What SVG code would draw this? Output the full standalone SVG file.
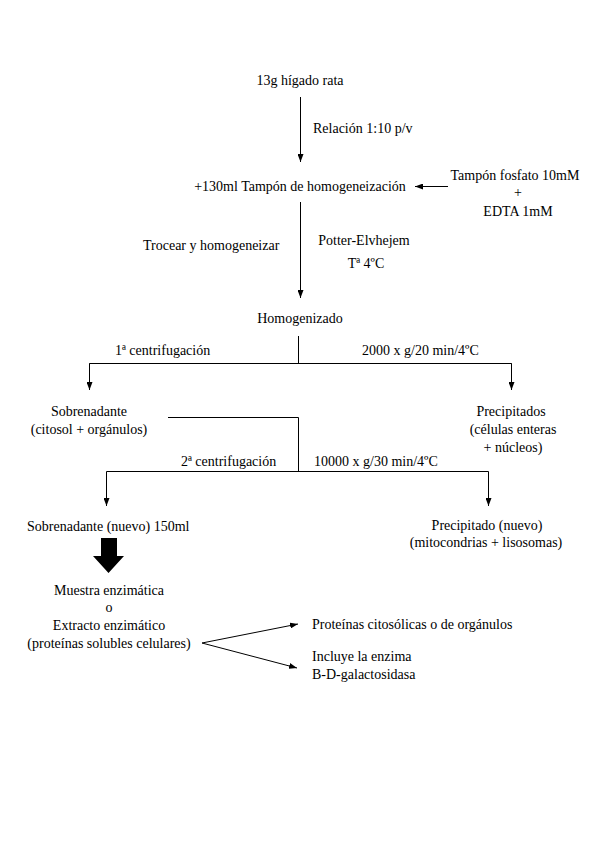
<svg xmlns="http://www.w3.org/2000/svg" width="599" height="848" viewBox="0 0 599 848">
<defs>
<style>
text{font-family:"Liberation Serif","Times New Roman",serif;font-size:14px;fill:#000}
.c{text-anchor:middle}
.ln{stroke:#000;stroke-width:1;fill:none}
</style>
<marker id="ah" viewBox="0 0 8 6" refX="8" refY="3" markerWidth="8" markerHeight="6" markerUnits="userSpaceOnUse" orient="auto">
<path d="M0,0 L8,3 L0,6 Z" fill="#000"/>
</marker>
</defs>
<rect width="599" height="848" fill="#fff"/>
<g id="connectors">
<line class="ln" x1="300.5" y1="97" x2="300.5" y2="162" marker-end="url(#ah)"/>
<line class="ln" x1="448" y1="186.5" x2="415" y2="186.5" marker-end="url(#ah)"/>
<line class="ln" x1="300.5" y1="202" x2="300.5" y2="298" marker-end="url(#ah)"/>
<polyline class="ln" points="298.5,336 298.5,363.5"/>
<polyline class="ln" points="89.5,364 89.5,363.5 511.5,363.5 511.5,364"/>
<line class="ln" x1="89.5" y1="363.5" x2="89.5" y2="390" marker-end="url(#ah)"/>
<line class="ln" x1="511.5" y1="363.5" x2="511.5" y2="390" marker-end="url(#ah)"/>
<polyline class="ln" points="168,417.5 298.5,417.5 298.5,471.5"/>
<polyline class="ln" points="106.5,471.5 488.5,471.5"/>
<line class="ln" x1="106.5" y1="471.5" x2="106.5" y2="506" marker-end="url(#ah)"/>
<line class="ln" x1="488.5" y1="471.5" x2="488.5" y2="506" marker-end="url(#ah)"/>
<path d="M101,538 H117 V556 H124 L108.5,573 L93,556 H101 Z" fill="#000"/>
<line class="ln" x1="202" y1="643" x2="298" y2="624" marker-end="url(#ah)"/>
<line class="ln" x1="202" y1="643" x2="297" y2="668" marker-end="url(#ah)"/>
</g>
<g id="n-higado"><text class="c" x="300" y="85">13g hígado rata</text></g>
<g id="l-relacion"><text x="313" y="133">Relación 1:10 p/v</text></g>
<g id="n-tampon"><text class="c" x="300" y="191">+130ml Tampón de homogeneización</text></g>
<g id="n-fosfato">
<text class="c" x="515" y="180">Tampón fosfato 10mM</text>
<text class="c" x="518" y="197">+</text>
<text class="c" x="518" y="216">EDTA 1mM</text>
</g>
<g id="l-trocear"><text x="143" y="250">Trocear y homogeneizar</text></g>
<g id="l-potter">
<text class="c" x="364" y="245">Potter-Elvhejem</text>
<text class="c" x="366" y="268">Tª 4ºC</text>
</g>
<g id="n-homogenizado"><text class="c" x="300" y="323">Homogenizado</text></g>
<g id="l-cent1"><text x="115" y="355">1ª centrifugación</text></g>
<g id="l-cond1"><text x="362" y="355">2000 x g/20 min/4ºC</text></g>
<g id="n-sobrenadante">
<text class="c" x="89" y="416">Sobrenadante</text>
<text class="c" x="89" y="434">(citosol + orgánulos)</text>
</g>
<g id="n-precipitados">
<text class="c" x="511" y="416">Precipitados</text>
<text class="c" x="513" y="434">(células enteras</text>
<text class="c" x="513" y="452">+ núcleos)</text>
</g>
<g id="l-cent2"><text x="181" y="466">2ª centrifugación</text></g>
<g id="l-cond2"><text x="314" y="466">10000 x g/30 min/4ºC</text></g>
<g id="n-sobrenadante2"><text x="27" y="531">Sobrenadante (nuevo) 150ml</text></g>
<g id="n-precipitado2">
<text class="c" x="487" y="530">Precipitado (nuevo)</text>
<text class="c" x="486" y="547">(mitocondrias + lisosomas)</text>
</g>
<g id="n-muestra">
<text class="c" x="109" y="595">Muestra enzimática</text>
<text class="c" x="109" y="612">o</text>
<text class="c" x="109" y="630">Extracto enzimático</text>
<text class="c" x="109" y="648">(proteínas solubles celulares)</text>
</g>
<g id="n-proteinas"><text x="312" y="629">Proteínas citosólicas o de orgánulos</text></g>
<g id="n-incluye">
<text x="312" y="661">Incluye la enzima</text>
<text x="312" y="679">B-D-galactosidasa</text>
</g>
</svg>
